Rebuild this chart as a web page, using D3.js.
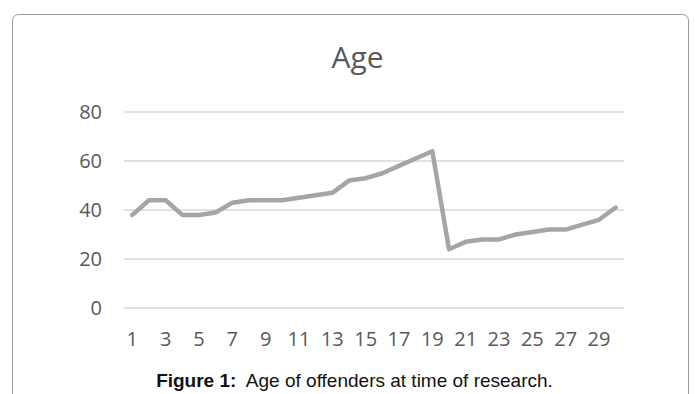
<!DOCTYPE html>
<html>
<head>
<meta charset="utf-8">
<script src="https://cdn.jsdelivr.net/npm/d3@7"></script>
<style>
  html, body { margin: 0; padding: 0; background: #fff; }
  svg { display: block; }
</style>
</head>
<body>
<svg id="chart" width="695" height="394"></svg>
<script>
// Offender index (1..30) and age of each offender
const categories = d3.range(1, 31);
const ages = [38, 44, 44, 38, 38, 39, 43, 44, 44, 44, 45, 46, 47, 52, 53, 55, 58, 61, 64,
              24, 27, 28, 28, 30, 31, 32, 32, 34, 36, 41];
const yTicks = [0, 20, 40, 60, 80];
const xTickLabels = categories.filter(d => d % 2 === 1);

const svg = d3.select("#chart");

// Rounded frame around the chart panel
svg.append("rect")
  .attr("x", 12.5).attr("y", 14.5)
  .attr("width", 676).attr("height", 400)
  .attr("rx", 6).attr("ry", 6)
  .attr("fill", "#fff")
  .attr("stroke", "#9a9a9a")
  .attr("stroke-width", 1);

const x = d3.scaleBand().domain(categories).range([124, 624]);
const y = d3.scaleLinear().domain([0, 80]).range([308, 112]);

// Horizontal gridlines
svg.append("g")
  .selectAll("line")
  .data(yTicks)
  .join("line")
  .attr("x1", 124).attr("x2", 624)
  .attr("y1", d => y(d)).attr("y2", d => y(d))
  .attr("stroke", "#d9d9d9")
  .attr("stroke-width", 1.5);

// Y axis labels
const yAxis = d3.axisLeft(y).tickValues(yTicks).tickSize(0).tickPadding(0);
svg.append("g")
  .attr("transform", "translate(102,0)")
  .call(yAxis)
  .call(g => g.select(".domain").remove())
  .call(g => g.selectAll("text")
    .attr("fill", "#595959")
    .attr("font-family", "'Open Sans', sans-serif")
    .attr("font-size", 20));

// X axis labels (every other category)
const xAxis = d3.axisBottom(x).tickValues(xTickLabels).tickSize(0).tickPadding(0);
svg.append("g")
  .attr("transform", "translate(0,332)")
  .call(xAxis)
  .call(g => g.select(".domain").remove())
  .call(g => g.selectAll("text")
    .attr("fill", "#595959")
    .attr("font-family", "'Open Sans', sans-serif")
    .attr("font-size", 20));

// Age line
const line = d3.line()
  .x((d, i) => x(categories[i]) + x.bandwidth() / 2)
  .y(d => y(d));

svg.append("path")
  .datum(ages)
  .attr("d", line)
  .attr("fill", "none")
  .attr("stroke", "#a5a5a5")
  .attr("stroke-width", 4.5)
  .attr("stroke-linejoin", "round")
  .attr("stroke-linecap", "round");

// Title
svg.append("text")
  .attr("x", 357.5).attr("y", 68)
  .attr("text-anchor", "middle")
  .attr("fill", "#595959")
  .attr("font-family", "'Open Sans', sans-serif")
  .attr("font-size", 30)
  .text("Age");

// Caption
const cap = svg.append("text")
  .attr("x", 354.5).attr("y", 387)
  .attr("text-anchor", "middle")
  .attr("fill", "#111")
  .attr("font-family", "'Liberation Sans', Arial, sans-serif")
  .attr("font-size", 19);
cap.append("tspan").attr("font-weight", "bold").text("Figure 1:");
cap.append("tspan").text("\u00a0 Age of offenders at time of research.");
</script>
</body>
</html>
